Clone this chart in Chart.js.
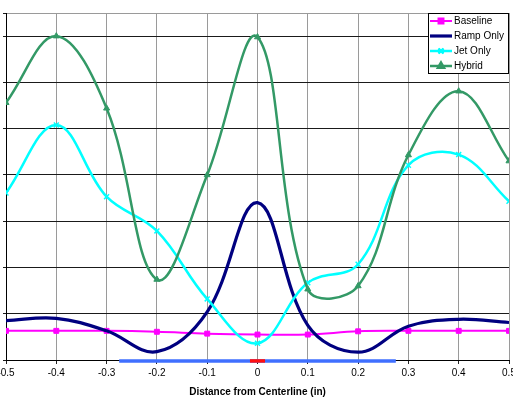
<!DOCTYPE html>
<html>
<head>
<meta charset="utf-8">
<script src="https://cdn.jsdelivr.net/npm/chart.js@4/dist/chart.umd.min.js"></script>
<style>
  html, body { margin: 0; padding: 0; background: #fff; overflow: hidden; width: 513px; height: 408px; }
  #wrap { position: absolute; left: -40px; top: 0; width: 600px; height: 408px; }
</style>
</head>
<body>
<div id="wrap"><canvas id="c" width="600" height="408"></canvas></div>
<script>
// ---- data ----
const positions = [-0.5, -0.4, -0.3, -0.2, -0.1, 0, 0.1, 0.2, 0.3, 0.4, 0.5];
const baseline  = [0.63, 0.63, 0.63, 0.61, 0.57, 0.55, 0.55, 0.62, 0.63, 0.63, 0.63];
const rampOnly  = [0.85, 0.90, 0.63, 0.18, 1.04, 3.40, 0.75, 0.17, 0.73, 0.88, 0.81];
const jetOnly   = [3.61, 5.08, 3.53, 2.79, 1.32, 0.36, 1.67, 2.07, 4.21, 4.44, 3.43];
const hybrid    = [5.56, 7.00, 5.44, 1.74, 4.00, 6.98, 1.53, 1.60, 4.43, 5.81, 4.30];
const seriesNames = ['Baseline', 'Ramp Only', 'Jet Only', 'Hybrid'];
const rampExtent = [-0.275, 0.275];
const jetExtent  = [-0.015, 0.015];
const axisTitle = 'Distance from Centerline (in)';

const pts = (arr) => arr.map((v, i) => ({ x: positions[i], y: v }));
const FONT = 'Arial, "Liberation Sans", sans-serif';

const datasets = [
  { label: seriesNames[0], data: pts(baseline), borderColor: '#FF00FF', backgroundColor: '#FF00FF',
    borderWidth: 2, pointStyle: 'rect', pointRadius: 3.5, pointBorderWidth: 1, order: 4 },
  { label: seriesNames[1], data: pts(rampOnly), borderColor: '#000080', backgroundColor: '#000080',
    borderWidth: 3.2, pointRadius: 0, order: 3 },
  { label: seriesNames[2], data: pts(jetOnly), borderColor: '#00FFFF', backgroundColor: '#00FFFF',
    borderWidth: 2.5, pointStyle: 'crossRot', pointRadius: 3.5, pointBorderWidth: 1.5, order: 2 },
  { label: seriesNames[3], data: pts(hybrid), borderColor: '#339966', backgroundColor: '#339966',
    borderWidth: 2.5, pointStyle: 'triangle', pointRadius: 3.5, pointBorderWidth: 1, order: 1 },
  { label: '_ramp', data: [{ x: rampExtent[0], y: -0.02 }, { x: rampExtent[1], y: -0.02 }],
    borderColor: '#3F6FFF', borderWidth: 3.5, pointRadius: 0, tension: 0, clip: false, order: 0 },
  { label: '_jet', data: [{ x: jetExtent[0], y: -0.02 }, { x: jetExtent[1], y: -0.02 }],
    borderColor: '#FF1010', borderWidth: 3.5, pointRadius: 0, tension: 0, clip: false, order: -1 }
];

const legendPlugin = {
  id: 'boxLegend',
  afterDraw(chart) {
    const ctx = chart.ctx;
    const a = chart.chartArea;
    const w = 80, h = 60;
    const left = a.right - w - 1, top = a.top;
    ctx.save();
    ctx.fillStyle = '#fff';
    ctx.fillRect(left, top, w, h);
    ctx.strokeStyle = '#000';
    ctx.lineWidth = 1;
    ctx.strokeRect(left + 0.5, top + 0.5, w, h);
    ctx.font = '10px ' + FONT;
    ctx.textBaseline = 'middle';
    ctx.textAlign = 'left';
    for (let i = 0; i < 4; i++) {
      const ds = chart.data.datasets[i];
      const y = top + 8 + i * 15;
      ctx.strokeStyle = ds.borderColor;
      ctx.lineWidth = ds.borderWidth;
      ctx.beginPath();
      ctx.moveTo(left + 2, y);
      ctx.lineTo(left + 24, y);
      ctx.stroke();
      if (ds.pointRadius > 0) {
        Chart.helpers.drawPoint(ctx, {
          pointStyle: ds.pointStyle, radius: ds.pointRadius, borderWidth: ds.pointBorderWidth, rotation: 0
        }, left + 13, y);
        ctx.fillStyle = ds.backgroundColor;
        ctx.strokeStyle = ds.borderColor;
        ctx.lineWidth = ds.pointBorderWidth;
        ctx.beginPath();
        // redraw with fill/stroke
        Chart.helpers.drawPoint(ctx, {
          pointStyle: ds.pointStyle, radius: ds.pointRadius, borderWidth: ds.pointBorderWidth, rotation: 0
        }, left + 13, y);
      }
      ctx.fillStyle = '#000';
      ctx.fillText(ds.label, left + 26, y + 0.5);
    }
    ctx.restore();
  }
};

new Chart(document.getElementById('c'), {
  type: 'line',
  data: { datasets },
  options: {
    responsive: false,
    animation: false,
    devicePixelRatio: 1,
    layout: { padding: { left: 43, right: 51, top: 13, bottom: 0 } },
    elements: { line: { tension: 0.38, cubicInterpolationMode: 'default' } },
    plugins: { legend: { display: false }, tooltip: { enabled: false }, title: { display: false } },
    scales: {
      x: {
        type: 'linear', min: -0.5, max: 0.5,
        afterFit: (s) => { s.height = 48; },
        ticks: { stepSize: 0.1, padding: 3, color: '#000', font: { family: FONT, size: 10 },
          maxRotation: 0, autoSkip: false,
          callback: (v) => { const r = Math.round(v * 10) / 10; return r === 0 ? '0' : String(r); } },
        grid: { color: '#9a9a9a', lineWidth: 1, tickLength: 4, tickColor: '#222', drawTicks: true },
        border: { display: true, color: '#000', width: 1 },
        title: { display: true, text: axisTitle, color: '#000', font: { family: FONT, size: 10, weight: 'bold' },
          padding: { top: 0, bottom: 10 } }
      },
      y: {
        min: 0, max: 7.5,
        afterFit: (s) => { s.width = 3; },
        ticks: { stepSize: 1, display: false },
        grid: { color: (c) => (c.tick && c.tick.value === 7.5 ? '#9a9a9a' : '#1a1a1a'), lineWidth: 1,
          tickLength: 3, tickColor: '#1a1a1a', drawTicks: true },
        border: { display: true, color: '#000', width: 1 }
      }
    }
  },
  plugins: [legendPlugin]
});
</script>
</body>
</html>
